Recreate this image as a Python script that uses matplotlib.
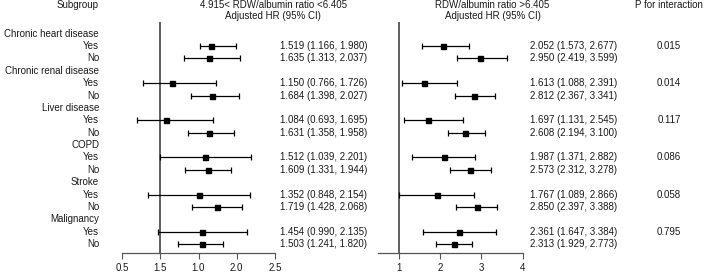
import matplotlib
matplotlib.use("Agg")
import matplotlib.pyplot as plt

plt.rcParams['font.family'] = ['Liberation Sans', 'DejaVu Sans']

subgroups = ["Chronic heart disease", "Chronic renal disease", "Liver disease",
             "COPD", "Stroke", "Malignancy"]
levels = ["Yes", "No"]

left_text = ["1.519 (1.166, 1.980)", "1.635 (1.313, 2.037)",
             "1.150 (0.766, 1.726)", "1.684 (1.398, 2.027)",
             "1.084 (0.693, 1.695)", "1.631 (1.358, 1.958)",
             "1.512 (1.039, 2.201)", "1.609 (1.331, 1.944)",
             "1.352 (0.848, 2.154)", "1.719 (1.428, 2.068)",
             "1.454 (0.990, 2.135)", "1.503 (1.241, 1.820)"]
right_text = ["2.052 (1.573, 2.677)", "2.950 (2.419, 3.599)",
              "1.613 (1.088, 2.391)", "2.812 (2.367, 3.341)",
              "1.697 (1.131, 2.545)", "2.608 (2.194, 3.100)",
              "1.987 (1.371, 2.882)", "2.573 (2.312, 3.278)",
              "1.767 (1.089, 2.866)", "2.850 (2.397, 3.388)",
              "2.361 (1.647, 3.384)", "2.313 (1.929, 2.773)"]
p_values = ["0.015", "0.014", "0.117", "0.086", "0.058", "0.795"]

# plotted positions as drawn in the picture
left_est = [1.66, 1.64, 1.15, 1.68, 1.08, 1.64, 1.58, 1.63, 1.50, 1.74, 1.55, 1.55]
left_lo = [1.52, 1.31, 0.77, 1.40, 0.69, 1.36, 1.00, 1.33, 0.84, 1.42, 0.97, 1.23]
left_hi = [1.99, 2.04, 1.73, 2.03, 1.69, 1.96, 2.18, 1.93, 2.17, 2.07, 2.14, 1.82]

right_est = [2.07, 2.96, 1.62, 2.82, 1.70, 2.61, 2.09, 2.73, 1.92, 2.89, 2.47, 2.34]
right_lo = [1.57, 2.42, 1.09, 2.37, 1.14, 2.20, 1.32, 2.24, 1.01, 2.39, 1.59, 1.91]
right_hi = [2.69, 3.61, 2.40, 3.34, 2.56, 3.10, 2.84, 3.23, 2.82, 3.39, 3.35, 2.78]

left_ticks = [0.5, 1.0, 1.5, 2.0, 2.5]
left_tick_labels = ["0.5", "1.5", "1.0", "2.0", "2.5"]
right_ticks = [1, 2, 3, 4]
right_tick_labels = ["1", "2", "3", "4"]

W, H = 707, 272
fig = plt.figure(figsize=(W / 100, H / 100), dpi=100)

row0, rowstep = 33.7, 12.37
ytop_px, ybot_px = 21.7, 253.3
ylim = ((ybot_px - row0) / rowstep, (ytop_px - row0) / rowstep)

item_rows = []
header_rows = []
for g in range(len(subgroups)):
    header_rows.append(3 * g)
    item_rows.extend([3 * g + 1, 3 * g + 2])

fs = 7.05
txtc = '#1a1a1a'


def make_panel(x0_px, x1_px, xlim, est, lo, hi, ticks, labels):
    ax = fig.add_axes([x0_px / W, 1 - ybot_px / H, (x1_px - x0_px) / W, (ybot_px - ytop_px) / H])
    ax.set_xlim(*xlim)
    ax.set_ylim(*ylim)
    for s in ['top', 'right', 'left']:
        ax.spines[s].set_visible(False)
    ax.spines['bottom'].set_color('#555555')
    ax.spines['bottom'].set_linewidth(0.9)
    ax.set_yticks([])
    ax.set_xticks(ticks)
    ax.set_xticklabels(labels, fontsize=fs, color=txtc)
    ax.tick_params(axis='x', length=4, width=0.8, color='#555555', pad=3)
    ax.axvline(1.0, color='#444444', lw=1.2, zorder=1)
    xerr = [[e - l for e, l in zip(est, lo)], [h - e for e, h in zip(est, hi)]]
    ax.errorbar(est, item_rows, xerr=xerr, fmt='s', color='black', ms=3.6,
                elinewidth=0.9, capsize=2.2, capthick=0.9, zorder=3)
    ax.patch.set_alpha(0)
    return ax


make_panel(122, 275, (0.5, 2.5), left_est, left_lo, left_hi, left_ticks, left_tick_labels)
make_panel(378, 522.7, (0.5, 4.0), right_est, right_lo, right_hi, right_ticks, right_tick_labels)

tx = fig.add_axes([0, 0, 1, 1])
tx.set_xlim(0, W)
tx.set_ylim(H, 0)
tx.axis('off')
tx.patch.set_alpha(0)


def ypx(r):
    return row0 + rowstep * r


tx.text(99, 5, "Subgroup", ha='right', va='center', fontsize=fs, color=txtc)
tx.text(273, 5, "4.915< RDW/albumin ratio <6.405", ha='center', va='center', fontsize=fs, color=txtc)
tx.text(273, 16, "Adjusted HR (95% CI)", ha='center', va='center', fontsize=fs, color=txtc)
tx.text(492, 5, "RDW/albumin ratio >6.405", ha='center', va='center', fontsize=fs, color=txtc)
tx.text(493, 16, "Adjusted HR (95% CI)", ha='center', va='center', fontsize=fs, color=txtc)
tx.text(669, 5, "P for interaction", ha='center', va='center', fontsize=fs, color=txtc)

for g, name in enumerate(subgroups):
    tx.text(99, ypx(header_rows[g]), name, ha='right', va='center', fontsize=fs, color=txtc)
    tx.text(669, ypx(header_rows[g] + 1), p_values[g], ha='center', va='center', fontsize=fs, color=txtc)

for i, r in enumerate(item_rows):
    tx.text(99, ypx(r), levels[i % 2], ha='right', va='center', fontsize=fs, color=txtc)
    tx.text(280, ypx(r), left_text[i], ha='left', va='center', fontsize=fs, color=txtc)
    tx.text(530, ypx(r), right_text[i], ha='left', va='center', fontsize=fs, color=txtc)

fig.savefig("out.png", dpi=100)
